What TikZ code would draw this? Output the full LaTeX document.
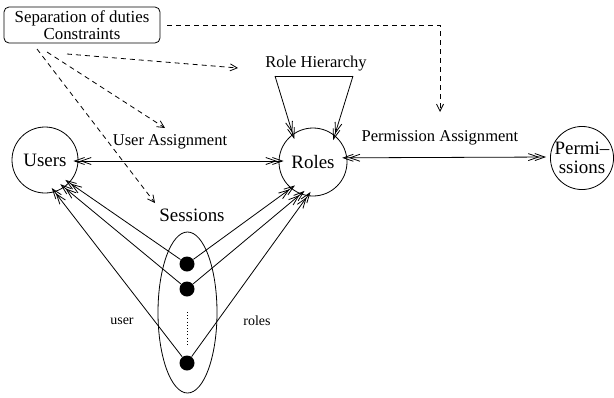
\documentclass[tikz,border=0pt]{standalone}
\usepackage{fontspec}
\setmainfont{Liberation Serif}
\usetikzlibrary{arrows.meta}
\tikzset{
  ent/.style={circle, draw, inner sep=0pt, font=\fontsize{19}{20}\selectfont, align=center},
  lbl/.style={font=\fontsize{16.6}{18}\selectfont, inner sep=0pt},
  small/.style={font=\fontsize{14}{16}\selectfont, inner sep=0pt},
  dot/.style={circle, fill=black, minimum size=15bp, inner sep=0pt},
  bb/.tip={Straight Barb[length=10bp,width=7bp,sep=-5bp]},
  dbl/.style={{bb[]bb[]}-{bb[]bb[]}},
  dblr/.style={-{bb[]bb[]}},
  dsh/.style={dash pattern=on 5bp off 4bp, -{Straight Barb[length=7bp,width=7bp]}},
}
\begin{document}
\begin{tikzpicture}[x=1bp,y=-1bp,line width=0.8bp]
\useasboundingbox (0,0) rectangle (614,397);
% nodes
\node[draw, rounded corners=5bp, minimum width=156bp, minimum height=36bp, inner sep=0pt,
      align=center, font=\fontsize{16.9}{16.5}\selectfont] (box) at (82,25) {Separation of duties\\Constraints};
\node[ent, minimum size=66bp] (users) at (45,160) {Users};
\node[ent, minimum size=68bp] (roles) at (313,162) {Roles};
\node[ent, minimum size=62bp, font=\fontsize{19}{19}\selectfont] (perms) at (582,158) {Permi–\\ssions};
\node[lbl] (ua) at (170,142) {User Assignment};
\node[lbl] (pa) at (440,138) {Permission Assignment};
\node[lbl] (rh) at (316,64) {Role Hierarchy};
\node[ent, draw=none, font=\fontsize{19}{20}\selectfont] (sess) at (192,215) {Sessions};
\node[small] (ul) at (122,321) {user};
\node[small] (rl) at (257,321) {roles};
\draw (187.5,312.5) ellipse [x radius=29.5, y radius=80.5];
\node[dot] (d1) at (187,264) {};
\node[dot] (d2) at (187,289) {};
\node[dot] (d3) at (187,363) {};
\coordinate (dt1) at (187,312);
\coordinate (dt2) at (187,345);
\draw[line width=1bp, dash pattern=on 1bp off 2.2bp] (dt1) -- (dt2);
% assignments
\draw[dbl] (users.east |- 0,161) -- (roles.west |- 0,161);
\draw[dbl, shorten >=9bp] (roles.7) -- (perms.west |- 0,157);
% role hierarchy
\coordinate (rh1) at (275,76);
\coordinate (rh2) at (353,76);
\draw (rh1) -- (rh2);
\draw[dblr] (rh1) -- (roles.126);
\draw[dblr] (rh2) -- (roles.51);
% session links
\draw[dblr] (d1) -- (users.-43);
\draw[dblr] (d2) -- (users.-55);
\draw[dblr] (d3) -- (users.-73);
\draw[dblr] (d1) -- (roles.-130);
\draw[dblr] (d2) -- (roles.-111);
\draw[dblr] (d3) -- (roles.-99);
% constraints (dashed)
\coordinate (c0) at (167,25);
\coordinate (ccorner) at (440,25);
\coordinate (cpa) at (440,112);
\draw[dsh] (c0) -- (ccorner) -- (cpa);
\coordinate (s2) at (67,54);
\coordinate (t2) at (238,68);
\draw[dsh] (s2) -- (t2);
\coordinate (s3) at (47,52);
\coordinate (t3) at (165,128);
\draw[dsh] (s3) -- (t3);
\coordinate (s4) at (37,49);
\coordinate (t4) at (155,203);
\draw[dsh] (s4) -- (t4);
\end{tikzpicture}
\end{document}
